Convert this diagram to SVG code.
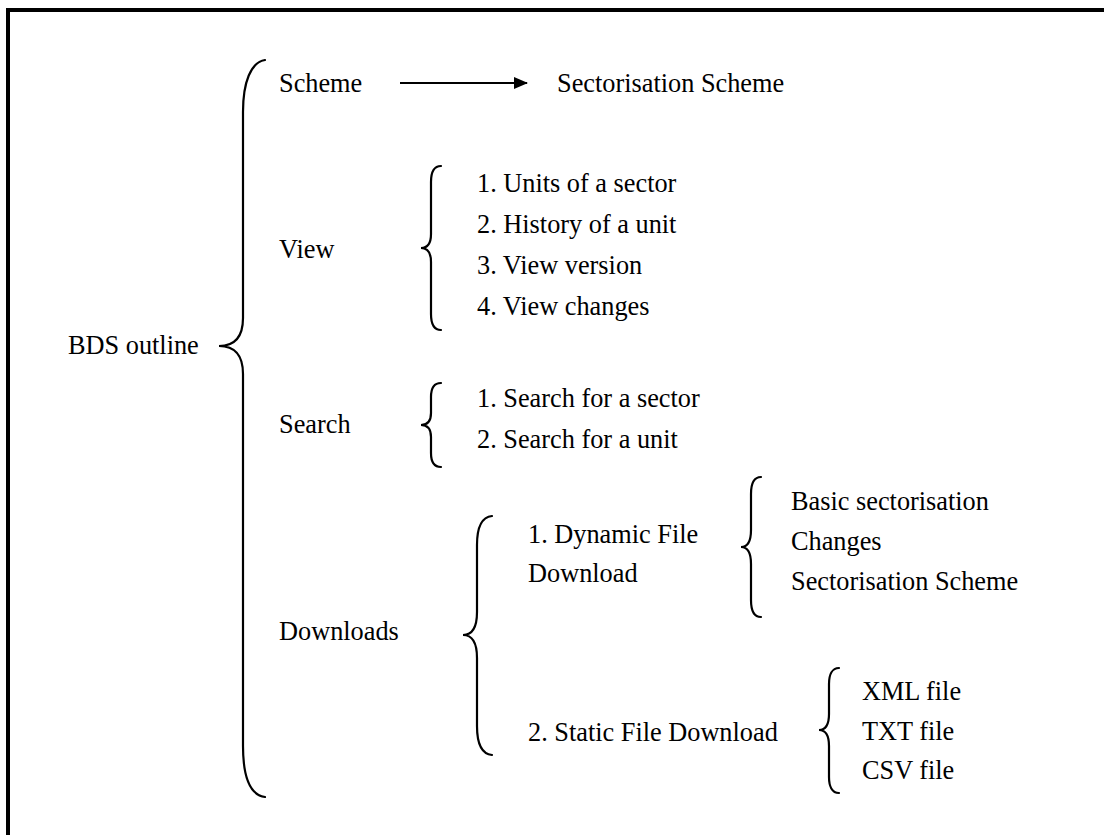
<svg xmlns="http://www.w3.org/2000/svg" width="1104" height="835" viewBox="0 0 1104 835">
  <style>
    text { font-family: "Liberation Serif", "Times New Roman", serif; font-size: 26.3px; fill: #000; }
    .brace { fill: none; stroke: #000; stroke-width: 2.2; stroke-linecap: round; }
    .frame { fill: none; stroke: #000; stroke-width: 4; }
    .conn { stroke: #000; stroke-width: 2.2; }
  </style>
  <defs>
    <marker id="arrowhead" markerWidth="14" markerHeight="12" refX="13" refY="6" orient="auto" markerUnits="userSpaceOnUse">
      <path d="M0,0 L14,6 L0,12 Z" fill="#000"/>
    </marker>
  </defs>

  <rect width="1104" height="835" fill="#fff"/>
  <!-- page frame: top and left edges -->
  <path class="frame" d="M8,835 L8,10 L1104,10"/>

  <!-- root -->
  <g id="root">
    <text x="68" y="354">BDS outline</text>
    <path class="brace" d="M265,60 C251,62 243,82 243,112 L243,318 C243,336 236,346 219,346 C236,346 243,356 243,374 L243,746 C243,778 251,795 265,797"/>
  </g>

  <!-- Scheme -->
  <g id="scheme">
    <text x="279" y="92">Scheme</text>
  </g>
  <g id="sectorisation-scheme">
    <text x="557" y="92">Sectorisation Scheme</text>
  </g>

  <!-- View -->
  <g id="view">
    <text x="279" y="258">View</text>
    <path class="brace" d="M441,166 C434,166 431,172 431,182 L431,234 C431,243 428,248 421,248 C428,248 431,253 431,262 L431,314 C431,324 434,330 441,330"/>
    <text x="477" y="192">1. Units of a sector</text>
    <text x="477" y="233">2. History of a unit</text>
    <text x="477" y="274">3. View version</text>
    <text x="477" y="315">4. View changes</text>
  </g>

  <!-- Search -->
  <g id="search">
    <text x="279" y="433">Search</text>
    <path class="brace" d="M441,383 C434,383 431,389 431,397 L431,413 C431,420 428,425 421,425 C428,425 431,430 431,437 L431,453 C431,461 434,467 441,467"/>
    <text x="477" y="407">1. Search for a sector</text>
    <text x="477" y="448">2. Search for a unit</text>
  </g>

  <!-- Downloads -->
  <g id="downloads">
    <text x="279" y="640">Downloads</text>
    <path class="brace" d="M492,516 C482,517 477,527 477,545 L477,612 C477,627 472,635 463,635 C472,635 477,643 477,658 L477,726 C477,744 482,754 492,755"/>
  </g>

  <g id="dynamic-download">
    <text x="528" y="543">1. Dynamic File</text>
    <text x="528" y="582">Download</text>
    <path class="brace" d="M761,477 C754,477 751,484 751,494 L751,530 C751,540 748,547 741,547 C748,547 751,554 751,564 L751,600 C751,610 754,617 761,617"/>
    <text x="791" y="510">Basic sectorisation</text>
    <text x="791" y="550">Changes</text>
    <text x="791" y="590">Sectorisation Scheme</text>
  </g>

  <g id="static-download">
    <text x="528" y="741">2. Static File Download</text>
    <path class="brace" d="M839,668 C832,668 829,675 829,684 L829,714 C829,724 826,730 819,730 C826,730 829,736 829,746 L829,777 C829,786 832,793 839,793"/>
    <text x="862" y="700">XML file</text>
    <text x="862" y="740">TXT file</text>
    <text x="862" y="779">CSV file</text>
  </g>

  <!-- connectors -->
  <g id="connectors">
    <line class="conn" x1="400" y1="83" x2="527" y2="83" marker-end="url(#arrowhead)"/>
  </g>
</svg>
